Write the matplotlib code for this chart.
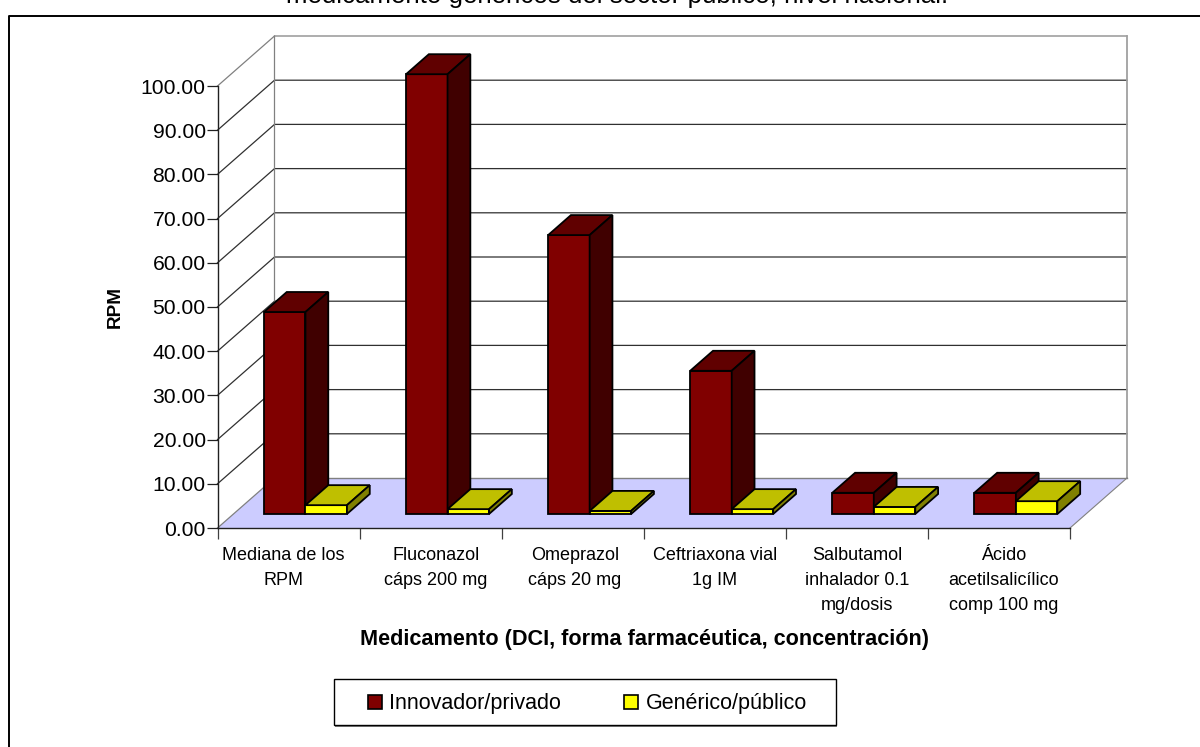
import matplotlib
matplotlib.use("Agg")
import matplotlib.pyplot as plt
from matplotlib.patches import Polygon, Rectangle
from matplotlib.lines import Line2D

plt.rcParams['font.family'] = ['Liberation Sans', 'DejaVu Sans']

# Ratio of median prices per medicine
categories = ["Mediana de los\nRPM", "Fluconazol\ncáps 200 mg", "Omeprazol\ncáps 20 mg",
              "Ceftriaxona vial\n1g IM", "Salbutamol\ninhalador 0.1\nmg/dosis",
              "Ácido\nacetilsalicílico\ncomp 100 mg"]
innovador = [45.7, 99.5, 63.1, 32.4, 4.8, 4.8]
generico = [2.0, 1.1, 0.7, 1.1, 1.6, 2.9]
yticks = list(range(0, 101, 10))

series_names = ["Innovador/privado", "Genérico/público"]
title = "medicamento genéricos del sector público, nivel nacional."
xlabel = "Medicamento (DCI, forma farmacéutica, concentración)"
ylabel = "RPM"

W, H = 1200, 747
fig = plt.figure(figsize=(W / 100, H / 100), dpi=100, facecolor="white")

# Front plane of the oblique box
left, right, bottom, top = 217.5, 1070, 528, 86
ax = fig.add_axes([left / W, 1 - bottom / H, (right - left) / W, (bottom - top) / H])
ax.set_xlim(0, len(categories))
ax.set_ylim(0, 100)
ax.patch.set_visible(False)

ux = (right - left) / len(categories)   # pixels per category
uy = (bottom - top) / 100               # pixels per value unit
wall_dx, wall_dy = 57 / ux, 50 / uy     # full depth of the box
depth_front = 0.28                      # bars start this far into the box
depth_bar = 0.40                        # depth taken by a bar
bar_w = 41.5 / ux
gap = 30.5 / ux


def shift(x, y, d):
    return x + d * wall_dx, y + d * wall_dy


def poly(points, **kw):
    kw.setdefault("edgecolor", "black")
    kw.setdefault("linewidth", 1.3)
    p = Polygon(points, closed=True, clip_on=False, joinstyle="miter", **kw)
    ax.add_patch(p)


n = len(categories)
ymax = yticks[-1]

# Floor
poly([shift(0, 0, 0), shift(n, 0, 0), shift(n, 0, 1), shift(0, 0, 1)],
     facecolor="#ccccff", edgecolor="none", linewidth=0, zorder=1)
ax.plot(*zip(shift(0, 0, 1), shift(n, 0, 1)), color="#808080", lw=1.0, zorder=1.5, clip_on=False)
ax.plot(*zip(shift(n, 0, 1), shift(n, 0, 0)), color="#808080", lw=0.8, zorder=1.5, clip_on=False)

# Back and side gridlines
for v in yticks[1:]:
    col = "#808080" if v == ymax else "#303030"
    ax.plot(*zip(shift(0, v, 0), shift(0, v, 1), shift(n, v, 1)),
            color=col, lw=0.9, zorder=1.2, clip_on=False)
ax.plot(*zip(shift(0, 0, 0), shift(0, 0, 1), shift(0, ymax, 1)),
        color="#808080", lw=0.9, zorder=1.2, clip_on=False)
ax.plot(*zip(shift(n, 0, 1), shift(n, ymax, 1)), color="#a0a0a0", lw=1.3, zorder=1.2, clip_on=False)


def box(x0, w, h, front, top_col, side_col, z):
    d0, d1 = depth_front, depth_front + depth_bar
    x0d, y0d = shift(x0, 0, d0)
    x1d = x0d + w
    dd = d1 - d0
    poly([(x0d, y0d), (x1d, y0d), (x1d, y0d + h), (x0d, y0d + h)], facecolor=front, zorder=z)
    poly([(x0d, y0d + h), (x1d, y0d + h), shift(x1d, y0d + h, dd), shift(x0d, y0d + h, dd)],
         facecolor=top_col, zorder=z)
    poly([(x1d, y0d), shift(x1d, y0d, dd), shift(x1d, y0d + h, dd), (x1d, y0d + h)],
         facecolor=side_col, zorder=z)


for i in range(n):
    box(i + gap, bar_w, innovador[i], "#800000", "#600000", "#400000", 3 + i * 0.1)
    box(i + gap + bar_w, bar_w, generico[i], "#ffff00", "#bfbf00", "#808000", 3.05 + i * 0.1)

# Axes, ticks and labels
for s in ("top", "right"):
    ax.spines[s].set_visible(False)
for s in ("left", "bottom"):
    ax.spines[s].set_linewidth(1.0)
    ax.spines[s].set_color("#202020")
    ax.spines[s].set_zorder(5)
ax.set_yticks(yticks)
ax.set_yticklabels([f"{v:.2f}" for v in yticks], fontsize=15.2)
ax.tick_params(axis="y", length=8, width=0.9, pad=0.5, color="#202020")
ax.set_xticks(range(n + 1))
ax.set_xticklabels([])
ax.tick_params(axis="x", length=8, width=0.9, color="#404040")

label_nudge = [-5, 5, 2, 0, 0, 5]
for i, c in enumerate(categories):
    fig.text((left + (i + 0.5) * ux + label_nudge[i]) / W, 1 - 546.5 / H, c, ha="center", va="top",
             fontsize=13.0, linespacing=1.62, color="black")

fig.text(644.5 / W, 1 - 639 / H, xlabel, ha="center", va="center", fontsize=15.6,
         fontweight="bold", color="black")
fig.text(115 / W, 1 - 307 / H, ylabel, ha="center", va="center", rotation=90,
         fontsize=13.6, fontweight="bold", color="black")
fig.text(617 / W, 1 - 3.5 / H, title, ha="center", va="baseline", fontsize=18.6, color="black")

# Outer frame, open towards the bottom and right edges
fig.add_artist(Line2D([9.3 / W, 9.3 / W, 1], [0, 1 - 15.5 / H, 1 - 15.5 / H],
                      color="black", lw=1.4, transform=fig.transFigure))

# Legend box with soft shadow
fig.add_artist(Rectangle((334.5 / W, 1 - 726.5 / H), 502 / W, 46 / H, transform=fig.transFigure,
                         facecolor="#808080", edgecolor="none", zorder=4))
fig.add_artist(Rectangle((333.5 / W, 1 - 725 / H), 502 / W, 46 / H, transform=fig.transFigure,
                         facecolor="white", edgecolor="black", lw=1.0, zorder=5))
for sx, name, colr, tx in ((368, series_names[0], "#800000", 389),
                           (624, series_names[1], "#ffff00", 646)):
    fig.add_artist(Rectangle((sx / W, 1 - 709 / H), 14 / W, 14 / H, transform=fig.transFigure,
                             facecolor=colr, edgecolor="black", lw=1.2, zorder=6))
    t = fig.text(tx / W, 1 - 703 / H, name, ha="left", va="center", fontsize=15.5, color="black")
    t.set_zorder(6)

fig.savefig("out.png", dpi=100, facecolor="white")
